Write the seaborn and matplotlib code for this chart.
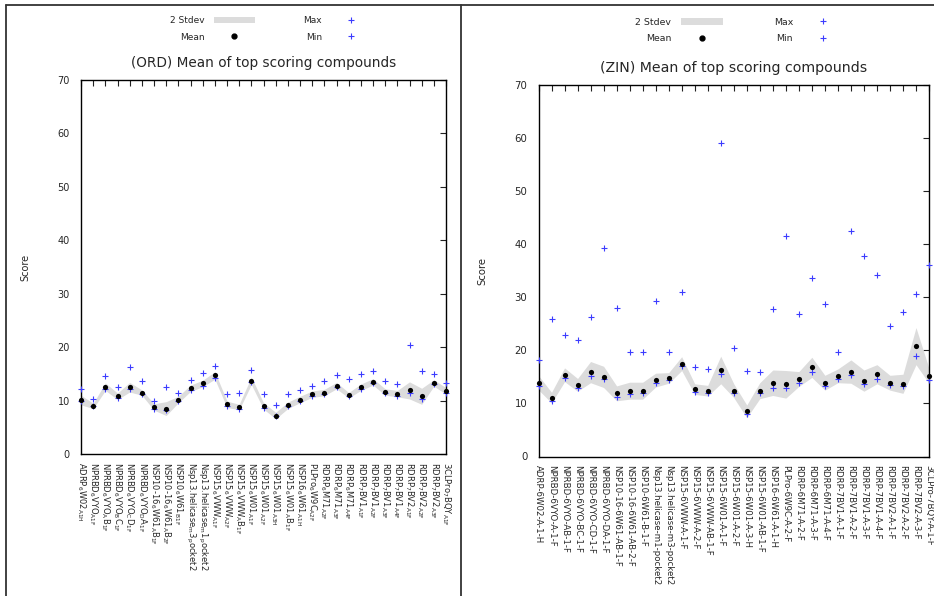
import numpy as np
import pandas as pd
import matplotlib
matplotlib.use("Agg")
from matplotlib import pyplot as plt
from matplotlib.lines import Line2D
from matplotlib.patches import Patch
import seaborn as sns

# ---- data ----
ord_labels = ['ADRP_6W02_A_1_H', 'NPRBD_6VYO_A_1_F', 'NPRBD_6VYO_AB_1_F', 'NPRBD_6VYO_BC_1_F',
              'NPRBD_6VYO_CD_1_F', 'NPRBD_6VYO_DA_1_F', 'NSP10-16_6W61_AB_1_F', 'NSP10-16_6W61_AB_2_F',
              'NSP10_6W61_B_1_F', 'Nsp13.helicase_m3_pocket2', 'Nsp13.helicase_m1_pocket2',
              'NSP15_6VWW_A_1_F', 'NSP15_6VWW_A_2_F', 'NSP15_6VWW_AB_1_F', 'NSP15_6W01_A_1_F',
              'NSP15_6W01_A_2_F', 'NSP15_6W01_A_3_H', 'NSP15_6W01_AB_1_F', 'NSP16_6W61_A_1_H',
              'PLPro_6W9C_A_2_F', 'RDRP_6M71_A_2_F', 'RDRP_6M71_A_3_F', 'RDRP_6M71_A_4_F',
              'RDRP_7BV1_A_1_F', 'RDRP_7BV1_A_2_F', 'RDRP_7BV1_A_3_F', 'RDRP_7BV1_A_4_F',
              'RDRP_7BV2_A_1_F', 'RDRP_7BV2_A_2_F', 'RDRP_7BV2_A_3_F', '3CLPro_7BQY_A_1_F']
ord_mean = [10.1, 9.0, 12.6, 10.8, 12.5, 11.5, 8.8, 8.5, 10.2, 12.3, 13.2, 14.7, 9.3, 8.8, 13.7, 9.0,
            7.2, 9.1, 10.2, 11.2, 11.5, 12.8, 11.0, 12.5, 13.5, 11.6, 11.3, 11.9, 10.8, 13.3, 11.8]
ord_max = [12.1, 10.3, 14.6, 12.6, 16.3, 13.6, 10.0, 12.5, 11.5, 13.9, 15.1, 16.4, 11.3, 11.5, 15.7, 11.2,
           9.1, 11.3, 12.0, 12.7, 13.6, 14.7, 14.1, 15.0, 15.5, 13.6, 13.1, 20.4, 15.5, 15.0, 13.2]
ord_min = [9.9, 8.9, 12.2, 10.5, 12.2, 11.2, 8.5, 8.3, 10.0, 12.0, 12.8, 14.3, 9.0, 8.5, 13.4, 8.7,
           7.1, 8.9, 9.9, 10.9, 11.3, 12.6, 10.8, 12.1, 13.2, 11.4, 10.9, 11.5, 10.3, 13.1, 11.5]
ord_sd = [0.9, 0.5, 0.7, 0.6, 0.9, 0.5, 0.6, 1.3, 0.6, 0.6, 0.6, 0.7, 0.6, 0.5, 0.7, 0.6,
          0.6, 0.6, 0.6, 0.6, 0.6, 0.6, 0.5, 0.6, 0.6, 0.6, 0.6, 1.6, 1.5, 0.6, 0.6]

zin_labels = ['ADRP-6W02-A-1-H', 'NPRBD-6VYO-A-1-F', 'NPRBD-6VYO-AB-1-F', 'NPRBD-6VYO-BC-1-F',
              'NPRBD-6VYO-CD-1-F', 'NPRBD-6VYO-DA-1-F', 'NSP10-16-6W61-AB-1-F', 'NSP10-16-6W61-AB-2-F',
              'NSP10-6W61-B-1-F', 'Nsp13.helicase-m1-pocket2', 'Nsp13.helicase-m3-pocket2',
              'NSP15-6VWW-A-1-F', 'NSP15-6VWW-A-2-F', 'NSP15-6VWW-AB-1-F', 'NSP15-6W01-A-1-F',
              'NSP15-6W01-A-2-F', 'NSP15-6W01-A-3-H', 'NSP15-6W01-AB-1-F', 'NSP16-6W61-A-1-H',
              'PLPro-6W9C-A-2-F', 'RDRP-6M71-A-2-F', 'RDRP-6M71-A-3-F', 'RDRP-6M71-A-4-F',
              'RDRP-7BV1-A-1-F', 'RDRP-7BV1-A-2-F', 'RDRP-7BV1-A-3-F', 'RDRP-7BV1-A-4-F',
              'RDRP-7BV2-A-1-F', 'RDRP-7BV2-A-2-F', 'RDRP-7BV2-A-3-F', '3CLPro-7BQY-A-1-F']
zin_mean = [13.9, 11.1, 15.4, 13.5, 15.9, 15.0, 11.9, 12.4, 12.4, 14.4, 14.8, 17.5, 12.7, 12.4, 16.3, 12.4,
            8.5, 12.4, 13.9, 13.6, 14.6, 16.8, 13.9, 15.2, 16.0, 14.3, 15.5, 13.9, 13.7, 20.8, 15.2]
zin_max = [18.2, 25.9, 22.9, 22.0, 26.3, 39.3, 27.9, 19.6, 19.7, 29.3, 19.6, 31.0, 16.9, 16.4, 59.1, 20.5,
           16.2, 15.9, 27.8, 41.5, 26.9, 33.6, 28.8, 19.6, 42.4, 37.8, 34.2, 24.5, 27.2, 30.6, 36.1]
zin_min = [13.2, 10.5, 14.8, 12.9, 15.1, 14.6, 11.3, 11.8, 11.9, 13.9, 14.4, 17.1, 12.1, 11.9, 15.6, 11.9,
           8.1, 11.9, 13.0, 13.0, 13.9, 15.9, 13.2, 14.6, 15.4, 13.7, 14.6, 13.5, 13.2, 18.9, 14.5]
zin_sd = [1.35, 1.0, 1.3, 1.2, 2.0, 2.0, 1.4, 1.6, 1.6, 1.3, 1.0, 1.3, 1.0, 1.0, 2.6, 1.3,
          1.2, 1.5, 2.4, 2.6, 1.4, 1.9, 1.4, 1.3, 2.2, 2.0, 1.8, 1.4, 1.8, 3.5, 1.4]

y_ticks = [0, 10, 20, 30, 40, 50, 60, 70]


def gp_label(s):
    # gnuplot enhanced text: "_X" puts the single char X in subscript
    out, sub, i = '', '', 0
    while i < len(s):
        if s[i] == '_' and i + 1 < len(s):
            sub += s[i + 1]
            i += 2
        else:
            if sub:
                out += r'$_\mathregular{' + sub + '}$'
                sub = ''
            out += s[i]
            i += 1
    if sub:
        out += r'$_\mathregular{' + sub + '}$'
    return out


sns.set_style('white')
plt.rcParams['font.family'] = ['DejaVu Sans']
plt.rcParams['mathtext.default'] = 'regular'

W, H = 934, 596
fig = plt.figure(figsize=(W / 100, H / 100), dpi=100)

BLUE = '#3c3cff'
BAND = '#dcdcdc'


def panel(rect, labels, mean, mx, mn, sd, title, title_pad, leg_center, k=1.0):
    # k: the right-hand plot was exported a touch larger, so its text is scaled by k
    x0, y0, x1, y1 = rect
    ax = fig.add_axes([x0 / W, 1 - y1 / H, (x1 - x0) / W, (y1 - y0) / H])
    df = pd.DataFrame({'idx': np.arange(len(labels)), 'mean': mean, 'max': mx, 'min': mn, 'sd': sd})
    ax.fill_between(df['idx'], df['mean'] - df['sd'], df['mean'] + df['sd'],
                    color=BAND, lw=0, zorder=1)
    sns.scatterplot(data=df, x='idx', y='mean', ax=ax, color='black', marker='o', s=14,
                    linewidth=0, clip_on=False, zorder=4, legend=False)
    for col in ['max', 'min']:
        sns.scatterplot(data=df, x='idx', y=col, ax=ax, color=BLUE, marker='+', s=18,
                        linewidth=0.8, clip_on=False, zorder=3, legend=False)
    ax.set_xlim(0, len(labels) - 1)
    ax.set_ylim(0, 70)
    ax.set_yticks(y_ticks)
    ax.set_xticks(df['idx'])
    ax.set_xticklabels(labels, rotation=-90, fontsize=6 * k, ha='center', va='top')
    ax.tick_params(axis='both', direction='in', length=4, width=0.8, color='#222222',
                   top=True, right=True, labelsize=7 * k)
    ax.tick_params(axis='x', pad=6, labelsize=6 * k)
    ax.tick_params(axis='y', pad=8)
    for sp in ax.spines.values():
        sp.set_color('black')
        sp.set_linewidth(1.0)
    ax.set_xlabel('')
    ax.set_ylabel('Score', fontsize=7 * k)
    ax.yaxis.set_label_coords(-51 / (x1 - x0), 0.5)
    ax.set_title(title, fontsize=9.8 * k, pad=title_pad)

    handles = [Patch(facecolor=BAND, edgecolor='none'),
               Line2D([], [], ls='', marker='o', color='black', markersize=3.5),
               Line2D([], [], ls='', marker='+', color=BLUE, markersize=4, markeredgewidth=0.8),
               Line2D([], [], ls='', marker='+', color=BLUE, markersize=4, markeredgewidth=0.8)]
    ax.legend(handles, ['2 Stdev', 'Mean', 'Max', 'Min'], ncol=2, markerfirst=False,
              frameon=False, fontsize=6.5 * k, handlelength=4.5, handletextpad=1.0,
              columnspacing=5.4, labelspacing=0.8, loc='center',
              bbox_to_anchor=(leg_center[0] / W, 1 - leg_center[1] / H),
              bbox_transform=fig.transFigure)
    return ax


panel((81, 80, 446, 454), [gp_label(s) for s in ord_labels], ord_mean, ord_max, ord_min, ord_sd,
      '(ORD) Mean of top scoring compounds', 9, (271, 29))
panel((538.5, 85, 929, 456.5), zin_labels, zin_mean, zin_max, zin_min, zin_sd,
      '(ZIN) Mean of top scoring compounds', 9.5, (740, 30.5), k=1.04)

# window borders around the two plots
for (xa, ya), (xb, yb) in [((6, 5), (W, 5)), ((6, 5), (6, H)), ((461, 5), (461, H))]:
    fig.add_artist(Line2D([xa / W, xb / W], [1 - ya / H, 1 - yb / H], color='#333333', lw=1.3,
                          transform=fig.transFigure))

fig.savefig('out.png', dpi=100)
